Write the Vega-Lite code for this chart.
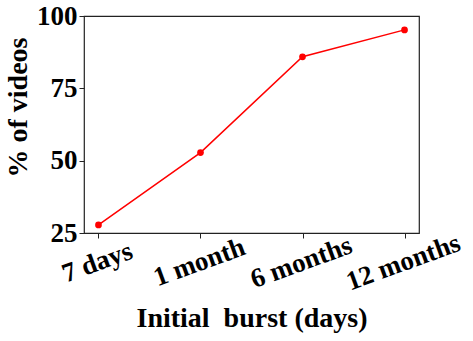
{
  "$schema": "https://vega.github.io/schema/vega-lite/v6.json",
  "autosize": {"type": "none"},
  "padding": {"left": 84, "top": 16, "right": 54, "bottom": 108},
  "width": 335,
  "height": 217,
  "background": "white",
  "config": {
    "view": {"stroke": "#222", "strokeWidth": 1.2},
    "font": "Liberation Serif",
    "axis": {
      "grid": false,
      "domain": false,
      "tickColor": "#222",
      "tickSize": 5,
      "labelFont": "Liberation Serif",
      "labelFontWeight": "bold",
      "labelFontSize": 27,
      "labelColor": "black",
      "titleFont": "Liberation Serif",
      "titleFontWeight": "bold",
      "titleFontSize": 28,
      "titleColor": "black"
    }
  },
  "data": {
    "values": [
      {"period": "7 days", "pct": 27.8},
      {"period": "1 month", "pct": 52.8},
      {"period": "6 months", "pct": 85.9},
      {"period": "12 months", "pct": 95.2}
    ]
  },
  "encoding": {
    "x": {
      "field": "period",
      "type": "nominal",
      "sort": null,
      "scale": {"type": "point", "padding": 0.142},
      "axis": {
        "title": "Initial\u00a0 burst (days)",
        "labelAngle": -20,
        "labelAlign": "center",
        "labelBaseline": "top",
        "labelPadding": 12,
        "labelOffset": -6,
        "labelOverlap": false,
        "titlePadding": 10
      }
    },
    "y": {
      "field": "pct",
      "type": "quantitative",
      "scale": {"domain": [25, 100], "nice": false, "zero": false},
      "axis": {
        "title": "% of videos",
        "values": [25, 50, 75, 100],
        "labelPadding": 2,
        "titlePadding": 4,
        "titleY": 91
      }
    }
  },
  "layer": [
    {"mark": {"type": "line", "color": "red", "strokeWidth": 1.5}},
    {"mark": {"type": "point", "filled": true, "color": "red", "size": 45, "opacity": 1}}
  ]
}
